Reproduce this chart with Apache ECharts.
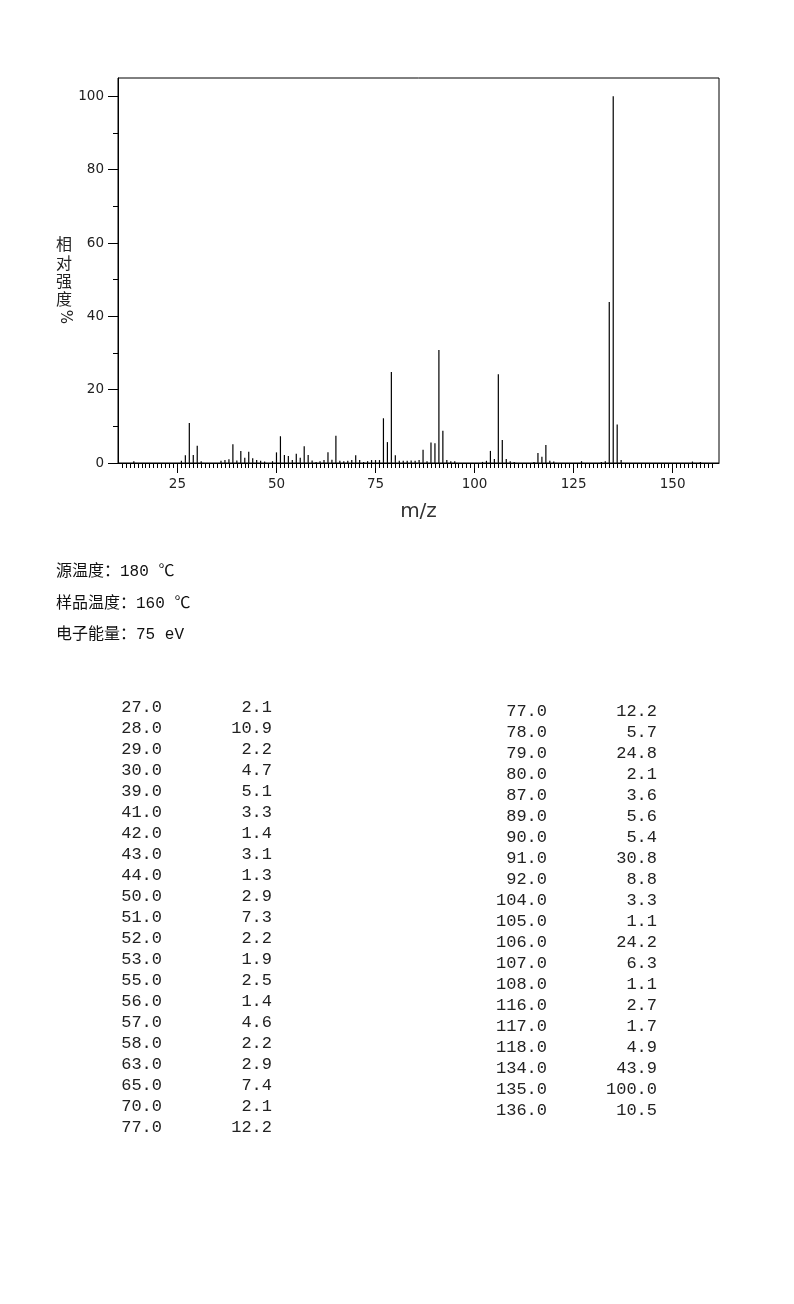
<!DOCTYPE html>
<html>
<head>
<meta charset="utf-8">
<script src="https://cdn.jsdelivr.net/npm/echarts@6/dist/echarts.min.js"></script>
<style>
html,body{margin:0;padding:0;background:#fff;}
#c{width:794px;height:1304px;}
</style>
</head>
<body>
<div id="c"></div>
<script>
// Listed peaks (table)
var peakMz = [27,28,29,30,39,41,42,43,44,50,51,52,53,55,56,57,58,63,65,70,77,78,79,80,87,89,90,91,92,104,105,106,107,108,116,117,118,134,135,136];
var peakInt = [2.1,10.9,2.2,4.7,5.1,3.3,1.4,3.1,1.3,2.9,7.3,2.2,1.9,2.5,1.4,4.6,2.2,2.9,7.4,2.1,12.2,5.7,24.8,2.1,3.6,5.6,5.4,30.8,8.8,3.3,1.1,24.2,6.3,1.1,2.7,1.7,4.9,43.9,100.0,10.5];
// Small unlisted peaks
var minorMz = [14,26,31,36,37,38,40,45,46,47,49,54,59,60,61,62,64,66,67,68,69,71,72,73,74,75,76,81,82,83,84,85,86,88,93,94,95,102,103,109,110,115,119,120,127,132,133,137,155,157];
var minorInt = [0.5,0.6,0.5,0.6,0.8,1.0,0.7,0.8,0.6,0.4,0.5,0.8,0.7,0.3,0.5,0.8,0.9,0.6,0.5,0.6,0.8,0.8,0.3,0.5,0.8,0.8,0.8,0.6,0.6,0.6,0.7,0.6,0.8,0.5,0.8,0.5,0.5,0.3,0.6,0.5,0.3,0.3,0.6,0.4,0.5,0.3,0.5,0.8,0.4,0.3];
// Axis ticks
var xMajorTicks = [25,50,75,100,125,150];
var xMinorFrom = 11, xMinorTo = 160;
var yMajorTicks = [0,20,40,60,80,100];
var yMinorTicks = [10,30,50,70,90];
var infoLines = ['源温度：180 ℃','样品温度：160 ℃','电子能量：75 eV'];
var yName = ['相','对','强','度'];

var xMinorTicks = [];
for (var t = xMinorFrom; t <= xMinorTo; t++) xMinorTicks.push(t);

var barData = [];
for (var i = 0; i < minorMz.length; i++) barData.push([minorMz[i], minorInt[i]]);
for (var j = 0; j < peakMz.length; j++) barData.push([peakMz[j], peakInt[j]]);

function fmt(v){ return v.toFixed(1); }

var graphics = [];
// y axis name
graphics.push({type:'text', left:56, top:235, style:{text:yName.join('\n'), font:'16px "Noto Sans CJK SC"', lineHeight:18.3, fill:'#222', textAlign:'left'}});
graphics.push({type:'text', x:64.5, y:317, rotation:-Math.PI/2, style:{text:'%', font:'15px "DejaVu Sans"', fill:'#222', textAlign:'center', textVerticalAlign:'middle'}});
// info lines
for (var k = 0; k < infoLines.length; k++) {
  graphics.push({type:'text', x:56, y:572 + k*31.5, style:{text:infoLines[k], font:'16px "Liberation Mono", "Noto Sans CJK SC"', fill:'#111', textVerticalAlign:'middle'}});
}
// table
var leftN = 21;
var cols = [
  {mz: peakMz.slice(0,leftN), it: peakInt.slice(0,leftN), x1:162, x2:272, y0:707},
  {mz: peakMz.slice(leftN-1), it: peakInt.slice(leftN-1), x1:547, x2:657, y0:711}
];
cols.forEach(function(c){
  for (var r = 0; r < c.mz.length; r++) {
    var yy = c.y0 + r*21;
    graphics.push({type:'text', x:c.x1, y:yy, style:{text:fmt(c.mz[r]), font:'17px "Liberation Mono"', fill:'#222', textAlign:'right', textVerticalAlign:'middle'}});
    graphics.push({type:'text', x:c.x2, y:yy, style:{text:fmt(c.it[r]), font:'17px "Liberation Mono"', fill:'#222', textAlign:'right', textVerticalAlign:'middle'}});
  }
});

var axisFont = {fontFamily:'DejaVu Sans', fontSize:13.5, color:'#222'};
var chart = echarts.init(document.getElementById('c'), null, {renderer:'canvas'});
chart.setOption({
  animation:false,
  backgroundColor:'#fff',
  grid:{left:118, right:75, top:78, bottom:841, show:true, borderColor:'#000', borderWidth:1, backgroundColor:'transparent'},
  xAxis:[
    {type:'value', min:10, max:161.7, position:'bottom',
     axisLine:{show:true, onZero:false, lineStyle:{color:'#000', width:1}},
     axisTick:{show:true, length:5, lineStyle:{color:'#000'}, customValues:xMinorTicks},
     axisLabel:{show:false}, splitLine:{show:false}},
    {type:'value', min:10, max:161.7, position:'bottom',
     name:'m/z', nameLocation:'middle', nameGap:39,
     nameTextStyle:{fontFamily:'DejaVu Sans', fontSize:20, color:'#333'},
     axisLine:{show:false, onZero:false},
     axisTick:{show:true, length:10, lineStyle:{color:'#000'}, customValues:xMajorTicks},
     axisLabel:Object.assign({show:true, margin:14, customValues:xMajorTicks}, axisFont),
     splitLine:{show:false}}
  ],
  yAxis:[
    {type:'value', min:0, max:105, position:'left',
     axisLine:{show:true, onZero:false, lineStyle:{color:'#000', width:1}},
     axisTick:{show:true, length:10, lineStyle:{color:'#000'}, customValues:yMajorTicks},
     axisLabel:Object.assign({show:true, margin:14, customValues:yMajorTicks}, axisFont),
     splitLine:{show:false}},
    {type:'value', min:0, max:105, position:'left',
     axisLine:{show:false, onZero:false},
     axisTick:{show:true, length:5, lineStyle:{color:'#000'}, customValues:yMinorTicks},
     axisLabel:{show:false}, splitLine:{show:false}}
  ],
  series:[
    {type:'bar', xAxisIndex:0, yAxisIndex:0, data:barData, barWidth:1.2,
     itemStyle:{color:'#000'}, silent:true}
  ],
  graphic:graphics
});
</script>
</body>
</html>
